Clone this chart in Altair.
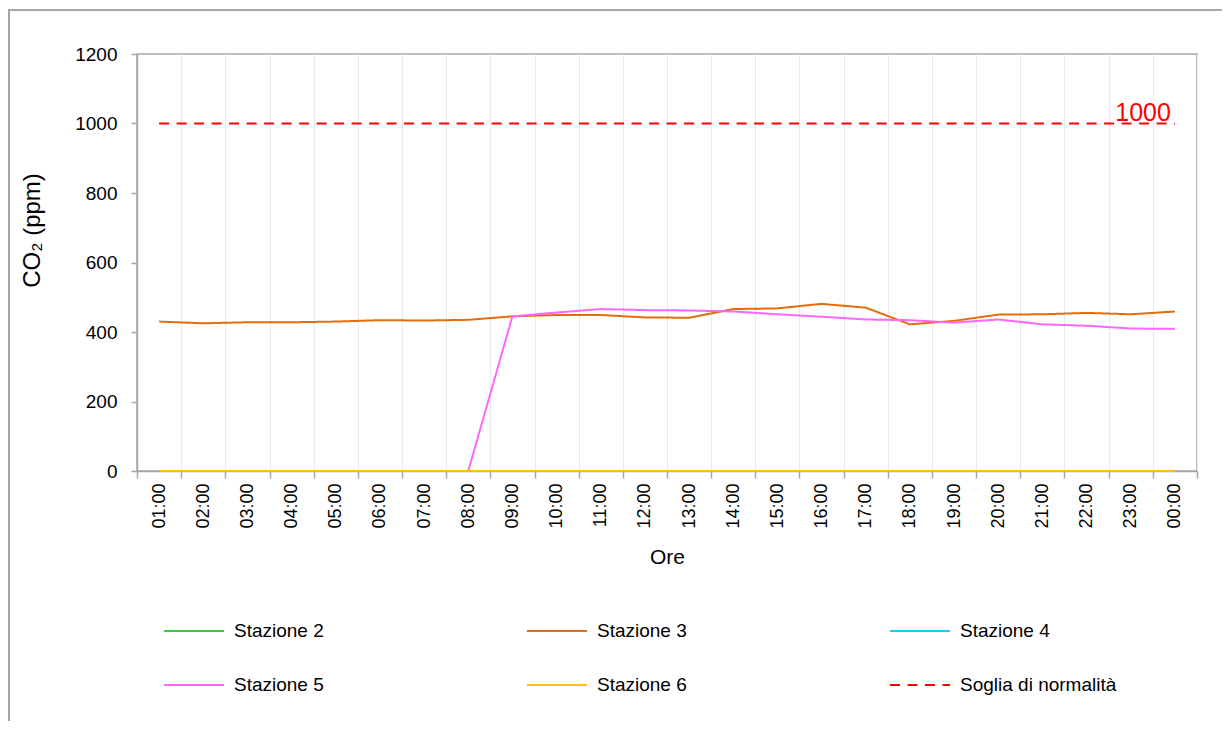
import altair as alt
import pandas as pd

hours = ["01:00", "02:00", "03:00", "04:00", "05:00", "06:00", "07:00", "08:00",
         "09:00", "10:00", "11:00", "12:00", "13:00", "14:00", "15:00", "16:00",
         "17:00", "18:00", "19:00", "20:00", "21:00", "22:00", "23:00", "00:00"]

stazione_2 = [0, 0, 0, 0, 0, 0, 0, 0, 0, 0, 0, 0, 0, 0, 0, 0, 0, 0, 0, 0, 0, 0, 0, 0]
stazione_3 = [430, 425, 428, 428, 430, 434, 433, 435, 445, 449, 449, 442,
              441, 466, 468, 481, 470, 422, 432, 450, 451, 455, 451, 459]
stazione_4 = [0, 0, 0, 0, 0, 0, 0, 0, 0, 0, 0, 0, 0, 0, 0, 0, 0, 0, 0, 0, 0, 0, 0, 0]
stazione_5 = [0, 0, 0, 0, 0, 0, 0, 0, 445, 456, 466, 463,
              462, 459, 451, 444, 436, 434, 427, 436, 422, 418, 410, 409]
stazione_6 = [0, 0, 0, 0, 0, 0, 0, 0, 0, 0, 0, 0, 0, 0, 0, 0, 0, 0, 0, 0, 0, 0, 0, 0]
soglia = [1000, 1000, 1000, 1000, 1000, 1000, 1000, 1000, 1000, 1000, 1000, 1000,
          1000, 1000, 1000, 1000, 1000, 1000, 1000, 1000, 1000, 1000, 1000, 1000]

series_names = ["Stazione 2", "Stazione 3", "Stazione 4", "Stazione 5", "Stazione 6",
                "Soglia di normalità"]
series_colors = ["#38CC38", "#E46C0A", "#10CCF8", "#FF66FF", "#FFC000", "#FF0000"]
series_dash = [[1, 0], [1, 0], [1, 0], [1, 0], [1, 0], [10, 7.5]]

threshold_label = ["1000"]
y_ticks = [0, 200, 400, 600, 800, 1000, 1200]

draw_order = [("Soglia di normalità", soglia), ("Stazione 2", stazione_2),
              ("Stazione 3", stazione_3), ("Stazione 4", stazione_4),
              ("Stazione 5", stazione_5), ("Stazione 6", stazione_6)]
rows = []
for name, vals in draw_order:
    for h, v in zip(hours, vals):
        rows.append({"Ora": h, "Valore": v, "Serie": name})
df = pd.DataFrame(rows)

label_df = pd.DataFrame({"Ora": [hours[-1]], "Valore": [soglia[-1]], "Testo": threshold_label})

FONT = "Liberation Sans"

legend = alt.Legend(
    title=None, orient="none", legendX=26, legendY=546, columns=3, direction="horizontal",
    columnPadding=199, rowPadding=13, symbolType="stroke", symbolSize=3600,
    symbolStrokeWidth=2, labelFontSize=19, labelFont=FONT, labelColor="#000000",
    labelOffset=9, padding=0,
)

x_enc = alt.X(
    "Ora:N", sort=hours, bandPosition=0.5,
    scale=alt.Scale(type="band", paddingInner=0, paddingOuter=0),
    axis=alt.Axis(title="Ore", labelAngle=-90, tickBand="extent", grid=True,
                  gridColor="#E9E9E9", gridWidth=1, tickSize=7, labelPadding=5,
                  titlePadding=18, titleFontSize=21),
)
y_enc = alt.Y(
    "Valore:Q", scale=alt.Scale(domain=[0, 1200], nice=False),
    axis=alt.Axis(title="CO₂ (ppm)", values=y_ticks, format="d", grid=False, tickSize=6,
                  labelPadding=14, labelFontSize=19, titleFontSize=24,
                  titleX=-105, titleY=176, titleAngle=270, titleAlign="center",
                  titleBaseline="middle"),
)

border = alt.Chart(label_df).mark_rect(
    fill=None, fillOpacity=0, stroke="#A6A6A6", strokeWidth=2
).encode(
    x=alt.value(-128), x2=alt.value(1120), y=alt.value(-44), y2=alt.value(720)
)

lines = alt.Chart(df).mark_line(strokeWidth=2).encode(
    x=x_enc,
    y=y_enc,
    color=alt.Color("Serie:N", scale=alt.Scale(domain=series_names, range=series_colors),
                    legend=legend),
    strokeDash=alt.StrokeDash("Serie:N",
                              scale=alt.Scale(domain=series_names, range=series_dash),
                              legend=legend),
)

text = alt.Chart(label_df).mark_text(
    align="right", baseline="bottom", dx=-4, dy=2, fontSize=25, font=FONT,
    color="#FF0000"
).encode(
    x=alt.X("Ora:N", sort=hours, bandPosition=0.5),
    y=alt.Y("Valore:Q"),
    text="Testo:N",
)

chart = alt.layer(border, lines, text).properties(
    width=1060, height=417,
    autosize=alt.AutoSizeParams(type="none"),
    padding={"left": 129, "top": 46, "right": 25, "bottom": 250},
).configure_view(
    stroke="#A6A6A6", strokeWidth=1.5
).configure_axis(
    labelFont=FONT, labelFontSize=18, labelColor="#000000",
    titleFont=FONT, titleFontSize=19, titleColor="#000000", titleFontWeight="normal",
    domainColor="#A6A6A6", domainWidth=1.5, tickColor="#A6A6A6", tickWidth=1.5,
)

chart.save("out.html", embed_options={"renderer": "svg", "actions": False})
